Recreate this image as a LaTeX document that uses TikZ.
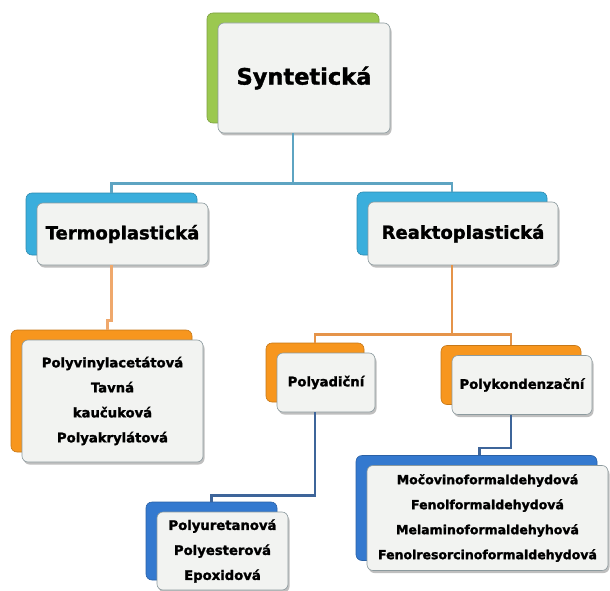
\documentclass[tikz,border=0pt]{standalone}
\usepackage{fontspec}
\newfontfamily\boxfont{DejaVu Sans Bold}[FakeBold=1.6]
\usetikzlibrary{calc}
\usetikzlibrary{shadows}

\definecolor{greenback}{HTML}{9BC850}
\definecolor{cyanback}{HTML}{3AAEDC}
\definecolor{orangeback}{HTML}{F7961E}
\definecolor{blueback}{HTML}{3479CF}
\definecolor{bluelink}{HTML}{5EA4C2}
\definecolor{lorangelink}{HTML}{EFA86C}
\definecolor{orangelink}{HTML}{E5944A}
\definecolor{steellink}{HTML}{3E659A}
\definecolor{cardfill}{HTML}{F2F3F1}
\definecolor{cardedge}{HTML}{8C9A9E}

\begin{document}
\begin{tikzpicture}[x=1pt, y=-1pt,
    card/.style={draw=cardedge, line width=0.6pt, fill=cardfill,
      rounded corners=6pt, inner sep=0pt, align=center,
      drop shadow={shadow xshift=1.5pt, shadow yshift=-2.5pt, fill=black, opacity=0.25}},
    backcard/.style={copy shadow={shadow xshift=-11pt, shadow yshift=10pt,
      fill=#1, draw=#1!80!black, line width=0.6pt}},
    link/.style={line width=2.4pt, draw=#1},
    bigtext/.style={font=\boxfont\fontsize{22.5}{27}\selectfont},
    midtext/.style={font=\boxfont\fontsize{18}{22}\selectfont},
    smalltext/.style={font=\boxfont\fontsize{13.2}{25}\selectfont}]
  \useasboundingbox (0,0) rectangle (610,591);

  % boxes
  \node[backcard=greenback, card, minimum width=172pt, minimum height=110pt, bigtext]
    (synt) at (304,78) {Syntetická};
  \node[backcard=cyanback, card, minimum width=171pt, minimum height=62pt, midtext]
    (termo) at (122.5,234) {Termoplastická};
  \node[backcard=cyanback, card, minimum width=190pt, minimum height=63pt, midtext]
    (reakto) at (463,233.5) {Reaktoplastická};
  \node[backcard=orangeback, card, minimum width=181pt, minimum height=122pt, smalltext]
    (termoch) at (112.5,401) {Polyvinylacetátová\\Tavná\\kaučuková\\Polyakrylátová};
  \node[backcard=orangeback, card, minimum width=98pt, minimum height=59pt, smalltext]
    (polyad) at (326,382.5) {Polyadiční};
  \node[backcard=orangeback, card, minimum width=140pt, minimum height=59pt, smalltext]
    (polykond) at (522,385) {Polykondenzační};
  \node[backcard=blueback, card, minimum width=131pt, minimum height=78pt, smalltext]
    (polyuret) at (222.5,551) {Polyuretanová\\Polyesterová\\Epoxidová};
  \node[backcard=blueback, card, minimum width=241pt, minimum height=105pt,
    font=\boxfont\fontsize{12.5}{25}\selectfont]
    (mocov) at (487.5,518) {Močovinoformaldehydová\\Fenolformaldehydová\\Melaminoformaldehyhová\\Fenolresorcinoformaldehydová};

  % connectors
  \coordinate (split1) at ($(synt.south)+(-11,50)$);
  \coordinate (split2) at ($(reakto.south)+(-11,69)$);

  \draw[link=bluelink] ($(synt.south)+(-11,0)$) -- (split1);
  \draw[link=bluelink] (split1) -| ($(termo.north)+(-11,-10)$);
  \draw[link=bluelink] (split1) -| ($(reakto.north)+(-11,-10)$);

  \draw[link=lorangelink] ($(termo.south)+(-11,0)$) -- ++(0,55) -| ($(termoch.north)+(-5,-10)$);

  \draw[link=orangelink] ($(reakto.south)+(-11,0)$) -- (split2);
  \draw[link=orangelink] (split2) -| ($(polyad.north)+(-11,-10)$);
  \draw[link=orangelink] (split2) -| ($(polykond.north)+(-11,-10)$);

  \draw[link=steellink] ($(polyad.south)+(-11,0)$) -- ++(0,83) -| ($(polyuret.north)+(-11,-10)$);
  \draw[link=steellink] ($(polykond.south)+(-11,0)$) -- ++(0,33) -| ($(mocov.north)+(-8,-10)$);
\end{tikzpicture}
\end{document}
